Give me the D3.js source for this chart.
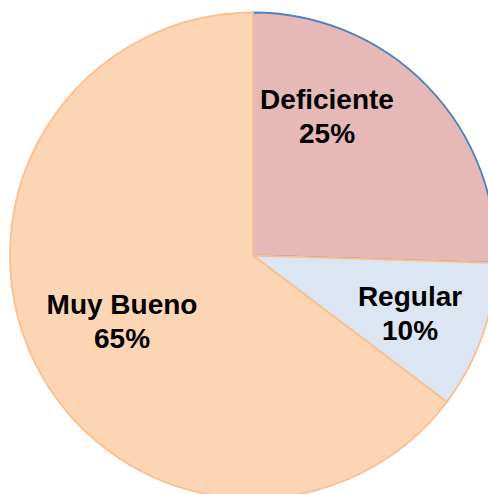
<!DOCTYPE html>
<html>
<head>
<meta charset="utf-8">
<script src="https://cdn.jsdelivr.net/npm/d3@7"></script>
<style>
  html, body { margin: 0; padding: 0; background: #fff; }
  svg { display: block; }
</style>
</head>
<body>
<svg id="chart" width="488" height="494"></svg>
<script>
// Data
const categories = ["Deficiente", "Regular", "Muy Bueno"];
const counts = [13, 5, 33];
const percentLabels = ["25%", "10%", "65%"];

// Styles
const fills = ["#E6B9B8", "#DCE6F2", "#FCD5B5"];
const strokes = ["#4F81BD", "#FAC090", "#FAC090"];
// label anchor offsets relative to pie center (layout only)
const labelOffsets = [[74, -147], [157, 50], [-131, 58]];

const width = 488, height = 494;
const cx = 253, cy = 255.5, r = 243;
const svg = d3.select("#chart");
const g = svg.append("g").attr("transform", `translate(${cx},${cy})`);

const pie = d3.pie().sort(null).value(d => d.v);
const data = categories.map((c, i) => ({ name: c, v: counts[i], pct: percentLabels[i], i }));
const arcs = pie(data);
const arc = d3.arc().innerRadius(0).outerRadius(r);

g.selectAll("path.slice")
  .data(arcs)
  .join("path")
  .attr("class", "slice")
  .attr("d", arc)
  .attr("fill", d => fills[d.data.i])
  .attr("stroke", d => strokes[d.data.i])
  .attr("stroke-width", 1.8)
  .attr("stroke-linejoin", "round");

const lineH = 34;
const labels = g.selectAll("text.lbl")
  .data(arcs)
  .join("text")
  .attr("class", "lbl")
  .attr("text-anchor", "middle")
  .attr("font-family", "Liberation Sans, Arial, sans-serif")
  .attr("font-weight", "bold")
  .attr("font-size", "28px")
  .attr("fill", "#000")
  .attr("transform", d => `translate(${labelOffsets[d.data.i][0]},${labelOffsets[d.data.i][1]})`);

labels.append("tspan").attr("x", 0).attr("y", 0).text(d => d.data.name);
labels.append("tspan").attr("x", 0).attr("y", lineH).text(d => d.data.pct);
</script>
</body>
</html>
